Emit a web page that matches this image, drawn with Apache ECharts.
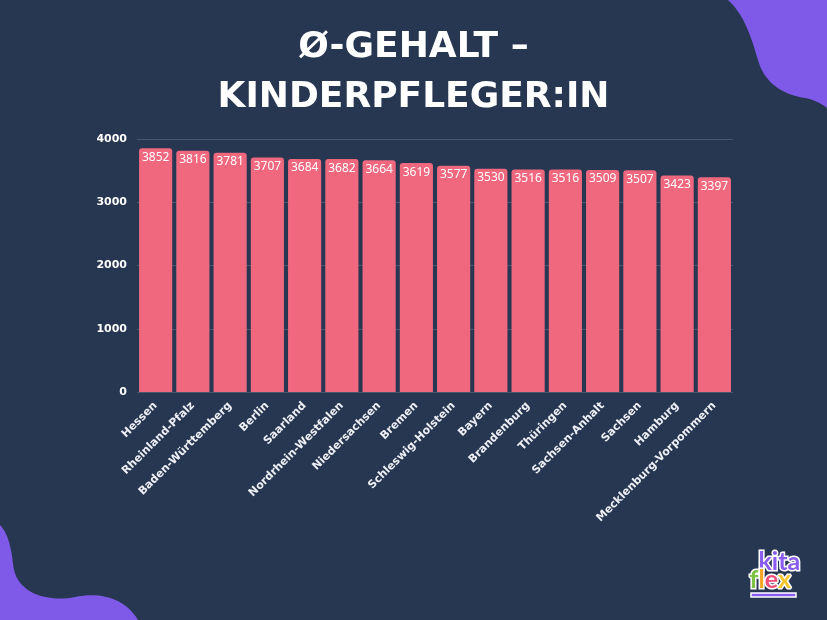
<!DOCTYPE html>
<html><head><meta charset="utf-8">
<script src="https://cdn.jsdelivr.net/npm/echarts@6/dist/echarts.min.js"></script>
<style>html,body{margin:0;padding:0;background:#273752;}#wrap{position:relative;width:827px;height:620px;}#bg{position:absolute;left:0;top:0;}#c{position:absolute;left:0;top:0;width:827px;height:620px;}</style>
</head><body><div id="wrap">
<svg id="bg" width="827" height="620" viewBox="0 0 827 620">
<rect width="827" height="620" fill="#273752"/>
<path d="M728,0 C745,15 752,40 758,60 C765,85 785,95 805,98 C815,100 822,104 827,108 L827,0 Z" fill="#7f5ae8"/>
<path d="M0,525 C10,535 12,555 14,570 C20,595 50,602 75,597 C100,592 125,598 138,620 L0,620 Z" fill="#7f5ae8"/>
</svg>
<div id="c"></div></div>
<script>
const categories = ["Hessen","Rheinland-Pfalz","Baden-Württemberg","Berlin","Saarland","Nordrhein-Westfalen","Niedersachsen","Bremen","Schleswig-Holstein","Bayern","Brandenburg","Thüringen","Sachsen-Anhalt","Sachsen","Hamburg","Mecklenburg-Vorpommern"];
const salaries = [3852,3816,3781,3707,3684,3682,3664,3619,3577,3530,3516,3516,3509,3507,3423,3397];
const yTicks = [0,1000,2000,3000,4000];
const titleText = "Ø-GEHALT –\nKINDERPFLEGER:IN";

const FONT = '"DejaVu Sans", sans-serif';
const chart = echarts.init(document.getElementById('c'), null, {renderer:'canvas'});
chart.setOption({
  backgroundColor: 'transparent',
  animation: false,
  title: {
    text: titleText, left: 'center', top: 18,
    textStyle: {color:'#ffffff', fontFamily: FONT, fontWeight: 'bold', fontSize: 36, lineHeight: 50, align:'center'}
  },
  grid: {left: 137, right: 94, top: 139, bottom: 228, containLabel: false},
  xAxis: {
    type: 'category', data: categories,
    axisLine: {show: false}, axisTick: {show: false},
    axisLabel: {interval: 0, rotate: 45, color: '#eef0f6', fontFamily: FONT, fontWeight: 'bold', fontSize: 11, margin: 12}
  },
  yAxis: {
    type: 'value', min: yTicks[0], max: yTicks[yTicks.length-1], interval: 1000,
    axisLine: {show:false}, axisTick: {show:false},
    axisLabel: {color:'#ffffff', fontFamily: FONT, fontWeight: 'bold', fontSize: 11, margin: 10, formatter: v => String(v)},
    splitLine: {lineStyle: {color: 'rgba(255,255,255,0.16)', width: 1}}
  },
  series: [{
    type: 'bar', data: salaries, barCategoryGap: '11%',
    itemStyle: {color: '#f0687e', borderRadius: [3,3,0,0]},
    label: {show: true, position: 'insideTop', distance: 3, color: '#ffffff', fontFamily: '"Noto Sans", sans-serif', fontSize: 12}
  }],
  graphic: [
    {type:'rect', shape:{x:751,y:593,width:45,height:4}, style:{fill:'#8a5cf0', stroke:'#ffffff', lineWidth:1.5}},
    {type:'text', left:757, top:548, style:{text:'kita', fill:'#8a5cf0', stroke:'#ffffff', lineWidth:3, font:'bold 25px "Lato", sans-serif'}},
    {type:'text', left:748, top:566, style:{rich:{f:{fill:'#7cc243'},l:{fill:'#f5a623'},e:{fill:'#ef4f7a'},x:{fill:'#f6c62e'}}, text:'{f|f}{l|l}{e|e}{x|x}', stroke:'#ffffff', lineWidth:3, font:'bold 25px "Lato", sans-serif'}}
  ]
});
</script></body></html>
